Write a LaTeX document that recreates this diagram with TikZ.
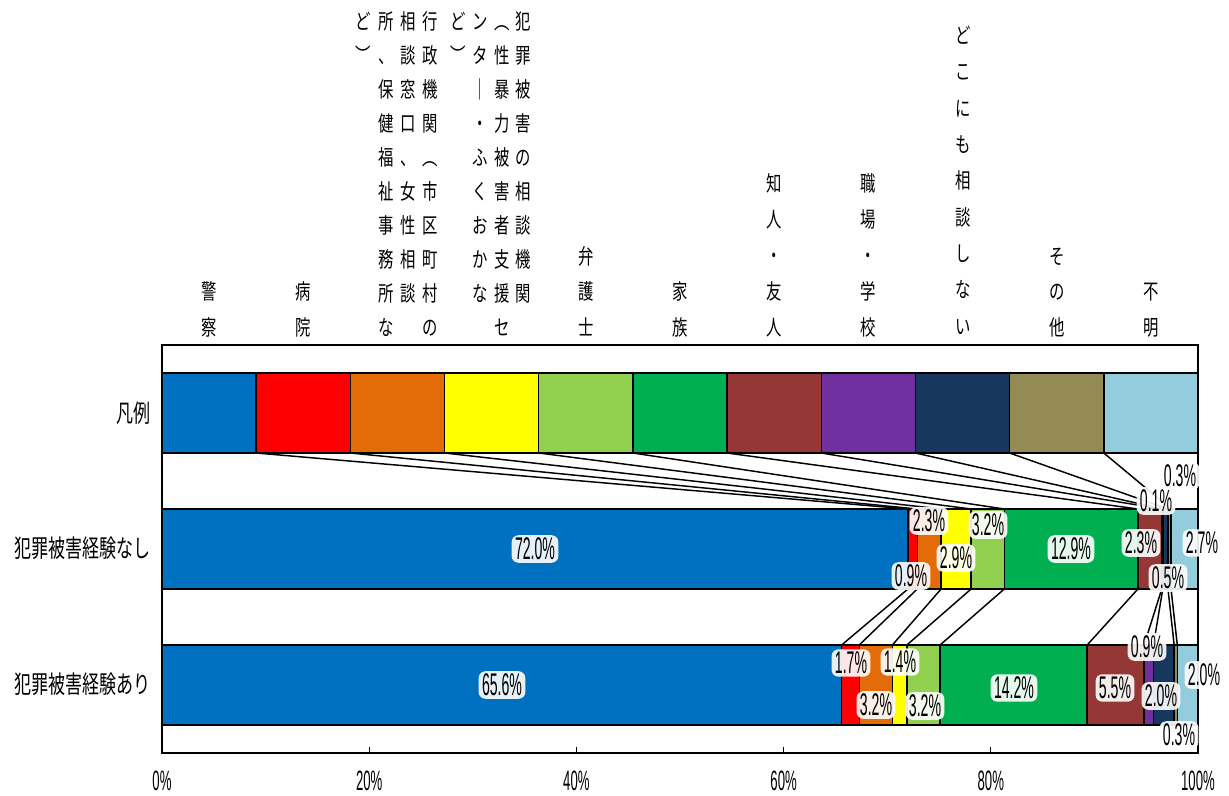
\documentclass[tikz,border=0pt]{standalone}
\usepackage{fontspec}
\newfontfamily\hdrfont[FakeStretch=0.72]{Noto Sans CJK JP}
\newfontfamily\rowfont[FakeStretch=0.69]{Noto Sans CJK JP}
\newfontfamily\numfont[FakeStretch=0.45]{Liberation Sans}
\newfontfamily\axfont[FakeStretch=0.47]{Liberation Sans}
\definecolor{cA}{HTML}{0070C0}
\definecolor{cB}{HTML}{FF0000}
\definecolor{cC}{HTML}{E36C09}
\definecolor{cD}{HTML}{FFFF00}
\definecolor{cE}{HTML}{92D050}
\definecolor{cF}{HTML}{00B050}
\definecolor{cG}{HTML}{953735}
\definecolor{cH}{HTML}{7030A0}
\definecolor{cI}{HTML}{17375E}
\definecolor{cJ}{HTML}{948A54}
\definecolor{cK}{HTML}{93CDDD}
\begin{document}
\begin{tikzpicture}[x=0.75pt,y=-0.75pt,
  segbox/.style={draw=black,line width=1.1pt,inner sep=0pt,outer sep=0pt,minimum height=60pt},
  conn/.style={black,line width=1.1pt},
  hdr/.style={font={\hdrfont\fontsize{16pt}{16pt}\selectfont},inner sep=0pt,text height=14pt,text depth=2pt},
  rowlbl/.style={font={\rowfont\fontsize{18.5pt}{18.5pt}\selectfont},anchor=east,inner sep=0pt},
  val/.style={font={\numfont\fontsize{23.5pt}{23.5pt}\selectfont},inner xsep=2.5pt,inner ysep=2pt,rounded corners=5pt,fill=white,fill opacity=0.9,text opacity=1},
  axlbl/.style={font={\axfont\fontsize{21pt}{21pt}\selectfont},inner sep=0pt}]
\useasboundingbox[fill=white] (0,0) rectangle (1229,796);

% plot frame and axis
\draw[line width=1.1pt] (162,345) rectangle (1198,753);
\draw[line width=2pt] (161,753) -- (1199,753);
\foreach \p in {20,40,60,80}
  \draw[line width=1pt] ({162+10.36*\p},753) -- ({162+10.36*\p},747);
\foreach \p in {0,20,40,60,80,100}
  \node[axlbl] (ax\p) at ({162+10.36*\p},781) {\p\%};

% legend bar
\foreach \i/\col in {1/cA,2/cB,3/cC,4/cD,5/cE,6/cF,7/cG,8/cH,9/cI,10/cJ,11/cK}
  \node[segbox,fill=\col,minimum width={94.18*0.75pt}] (L\i) at ({162+94.18*(\i-0.5)},413) {};

% row 1
\foreach \i/\a/\b/\col in {1/162/907.92/cA,2/907.92/917.24/cB,3/917.24/941.07/cC,4/941.07/971.12/cD,5/971.12/1004.27/cE,6/1004.27/1137.91/cF,7/1137.91/1161.74/cG,8/1161.74/1162.78/cH,9/1162.78/1167.96/cI,10/1167.96/1171.06/cJ,11/1171.06/1198/cK}
  \node[segbox,fill=\col,minimum width={(\b-\a)*0.75pt}] (A\i) at ({(\a+\b)/2},549) {};

% row 2
\foreach \i/\a/\b/\col in {1/162/841.62/cA,2/841.62/859.23/cB,3/859.23/892.38/cC,4/892.38/906.88/cD,5/906.88/940.04/cE,6/940.04/1087.15/cF,7/1087.15/1144.13/cG,8/1144.13/1153.45/cH,9/1153.45/1174.17/cI,10/1174.17/1177.28/cJ,11/1177.28/1198/cK}
  \node[segbox,fill=\col,minimum width={(\b-\a)*0.75pt}] (B\i) at ({(\a+\b)/2},685) {};

% series lines
\foreach \i in {1,...,10} {
  \draw[conn] (L\i.south east) -- (A\i.north east);
  \draw[conn] (A\i.south east) -- (B\i.north east);
}

% row labels
\node[rowlbl] (rl0) at (151,413) {凡例};
\node[rowlbl] (rl1) at (151,548) {犯罪被害経験なし};
\node[rowlbl] (rl2) at (151,684) {犯罪被害経験あり};

% headers: multi-column (top aligned)
\foreach \ch [count=\k from 0] in {行,政,機,関,︵,市,区,町,村,の}
  \node[hdr] (h3a\k) at (430,{22+33.9*\k}) {\ch};
\foreach \ch [count=\k from 0] in {相,談,窓,口,、,女,性,相,談}
  \node[hdr] (h3b\k) at (408,{22+33.9*\k}) {\ch};
\foreach \ch [count=\k from 0] in {所,、,保,健,福,祉,事,務,所,な}
  \node[hdr] (h3c\k) at (386,{22+33.9*\k}) {\ch};
\foreach \ch [count=\k from 0] in {ど,︶}
  \node[hdr] (h3d\k) at (363,{22+33.9*\k}) {\ch};
\foreach \ch [count=\k from 0] in {犯,罪,被,害,の,相,談,機,関}
  \node[hdr] (h4a\k) at (523,{22+33.9*\k}) {\ch};
\foreach \ch [count=\k from 0] in {︵,性,暴,力,被,害,者,支,援,セ}
  \node[hdr] (h4b\k) at (502,{22+33.9*\k}) {\ch};
\foreach \ch [count=\k from 0] in {ン,タ,｜,・,ふ,く,お,か,な}
  \node[hdr] (h4c\k) at (480,{22+33.9*\k}) {\ch};
\foreach \ch [count=\k from 0] in {ど,︶}
  \node[hdr] (h4d\k) at (458,{22+33.9*\k}) {\ch};

% headers: single column (bottom aligned)
\foreach \ch [count=\k from 0] in {警,察}
  \node[hdr] (h1\k) at (209,{327-35.5*(1-\k)}) {\ch};
\foreach \ch [count=\k from 0] in {病,院}
  \node[hdr] (h2\k) at (303,{327-35.5*(1-\k)}) {\ch};
\foreach \ch [count=\k from 0] in {弁,護,士}
  \node[hdr] (h5\k) at (586,{327-35.5*(2-\k)}) {\ch};
\foreach \ch [count=\k from 0] in {家,族}
  \node[hdr] (h6\k) at (680,{327-35.5*(1-\k)}) {\ch};
\foreach \ch [count=\k from 0] in {知,人,・,友,人}
  \node[hdr] (h7\k) at (774,{327-36*(4-\k)}) {\ch};
\foreach \ch [count=\k from 0] in {職,場,・,学,校}
  \node[hdr] (h8\k) at (868,{327-36*(4-\k)}) {\ch};
\foreach \ch [count=\k from 0] in {ど,こ,に,も,相,談,し,な,い}
  \node[hdr] (h9\k) at (963,{326-36.3*(8-\k)}) {\ch};
\foreach \ch [count=\k from 0] in {そ,の,他}
  \node[hdr] (h10\k) at (1057,{327-35.5*(2-\k)}) {\ch};
\foreach \ch [count=\k from 0] in {不,明}
  \node[hdr] (h11\k) at (1151,{327-35.5*(1-\k)}) {\ch};

% value labels row 1
\node[val] (va1) at (535,549) {72.0\%};
\node[val] (va2) at (911,576) {0.9\%};
\node[val] (va3) at (929,521) {2.3\%};
\node[val] (va4) at (956,558) {2.9\%};
\node[val] (va5) at (988,525) {3.2\%};
\node[val] (va6) at (1071,549) {12.9\%};
\node[val] (va7) at (1141,543) {2.3\%};
\node[val] (va8) at (1156,501) {0.1\%};
\node[val] (va9) at (1168,578) {0.5\%};
\node[val] (va10) at (1180,476) {0.3\%};
\node[val] (va11) at (1202,543) {2.7\%};

% value labels row 2
\node[val] (vb1) at (502,685) {65.6\%};
\node[val] (vb2) at (851,663) {1.7\%};
\node[val] (vb3) at (876,705) {3.2\%};
\node[val] (vb4) at (900,662) {1.4\%};
\node[val] (vb5) at (925,706) {3.2\%};
\node[val] (vb6) at (1014,688) {14.2\%};
\node[val] (vb7) at (1115,688) {5.5\%};
\node[val] (vb8) at (1147,647) {0.9\%};
\node[val] (vb9) at (1161,696) {2.0\%};
\node[val] (vb10) at (1179,735) {0.3\%};
\node[val] (vb11) at (1204,675) {2.0\%};
\end{tikzpicture}
\end{document}
